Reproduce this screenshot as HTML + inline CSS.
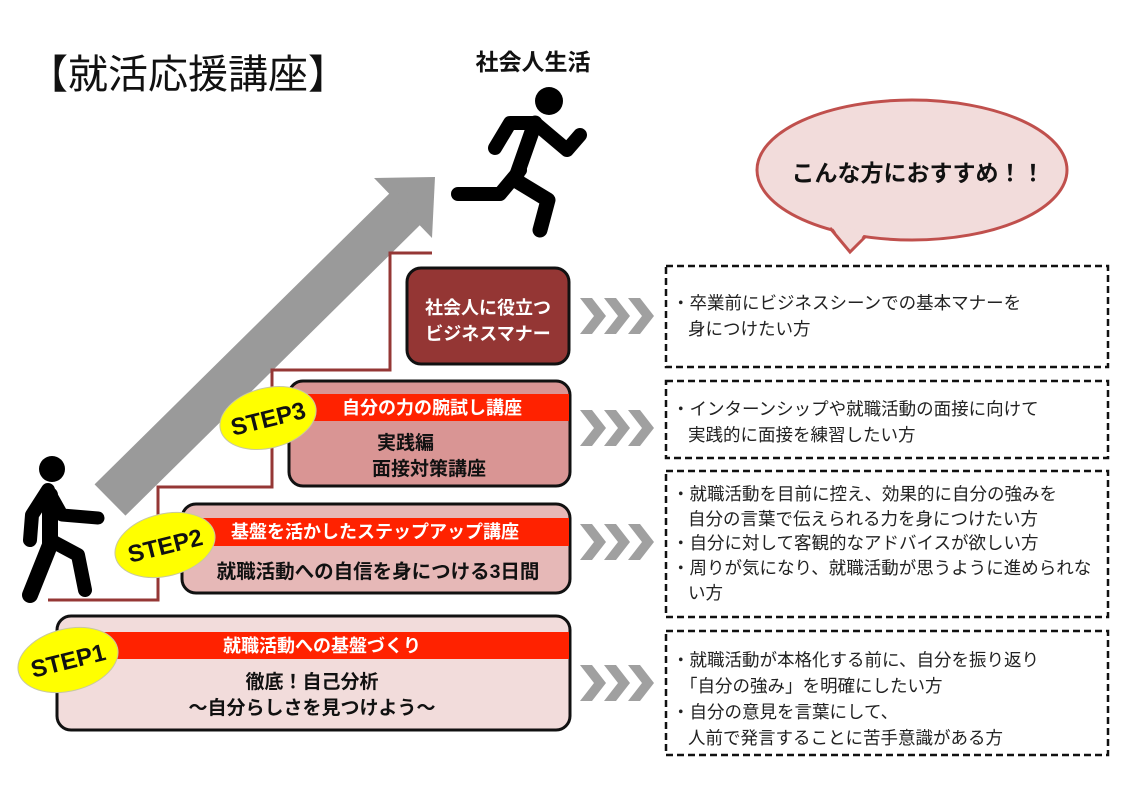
<!DOCTYPE html>
<html><head><meta charset="utf-8"><style>
html,body{margin:0;padding:0;background:#fff;}
svg{display:block;font-family:"Liberation Sans","Noto Sans CJK JP",sans-serif;}
</style></head><body>
<svg width="1121" height="793" viewBox="0 0 1121 793" xmlns="http://www.w3.org/2000/svg">
<rect width="1121" height="793" fill="#fff"/>
<text x="28" y="88" font-size="40" fill="#111">【就活応援講座】</text>
<text x="533" y="70" font-size="23" font-weight="bold" text-anchor="middle" fill="#111">社会人生活</text>

<!-- gray arrow -->
<line x1="110" y1="500" x2="408" y2="206" stroke="#9a9a9a" stroke-width="44"/>
<polygon points="435,177 374,178 432,238" fill="#9a9a9a"/>

<!-- stair line -->
<polyline points="48,600 158,600 158,487 272,487 272,370 390,370 390,253 432,253" fill="none" stroke="#953735" stroke-width="3"/>

<!-- runner top -->
<g fill="#000" stroke="#000" stroke-linecap="round" stroke-linejoin="round">
<circle cx="549" cy="101" r="14" stroke="none"/>
<polyline points="495,148 510,123 535,123 567,150 580,135" fill="none" stroke-width="14"/>
<polyline points="535,123 515,180 548,200 540,230" fill="none" stroke-width="15"/>
<polyline points="520,170 500,194 458,194" fill="none" stroke-width="14"/>
<!-- walker bottom -->
<circle cx="52" cy="469" r="13" stroke="none"/>
<polyline points="48,490 32,515 30,540" fill="none" stroke-width="14"/>
<polyline points="48,490 62,515 98,518" fill="none" stroke-width="13"/>
<polyline points="50,495 50,545 30,595" fill="none" stroke-width="16"/>
<polyline points="50,540 78,555 85,590" fill="none" stroke-width="14"/>
</g>

<!-- boxes left -->
<rect x="407" y="268" width="162" height="96" rx="14" fill="#943634" stroke="#111" stroke-width="3"/>
<text x="488" y="314" font-size="18" font-weight="bold" fill="#fff" text-anchor="middle">社会人に役立つ</text>
<text x="488" y="340" font-size="18" font-weight="bold" fill="#fff" text-anchor="middle">ビジネスマナー</text>

<rect x="289" y="381" width="281" height="105" rx="14" fill="#D99594" stroke="#111" stroke-width="3"/>
<rect x="291" y="394" width="278" height="27" fill="#FF2200"/>
<text x="432" y="414" font-size="18" font-weight="bold" fill="#fff" text-anchor="middle">自分の力の腕試し講座</text>
<text x="377" y="449" font-size="19" font-weight="bold" fill="#111">実践編</text>
<text x="372" y="475" font-size="19" font-weight="bold" fill="#111">面接対策講座</text>

<rect x="182" y="504" width="388" height="89" rx="14" fill="#E6B8B7" stroke="#111" stroke-width="3"/>
<rect x="184" y="518" width="385" height="28" fill="#FF2200"/>
<text x="375" y="538" font-size="18" font-weight="bold" fill="#fff" text-anchor="middle">基盤を活かしたステップアップ講座</text>
<text x="378" y="578" font-size="19.5" font-weight="bold" fill="#111" text-anchor="middle">就職活動への自信を身につける3日間</text>

<rect x="57" y="616" width="513" height="114" rx="14" fill="#F2DCDB" stroke="#111" stroke-width="3"/>
<rect x="59" y="632" width="510" height="27" fill="#FF2200"/>
<text x="322" y="652" font-size="18" font-weight="bold" fill="#fff" text-anchor="middle">就職活動への基盤づくり</text>
<text x="312" y="688" font-size="19" font-weight="bold" fill="#111" text-anchor="middle">徹底！自己分析</text>
<text x="312" y="714" font-size="19" font-weight="bold" fill="#111" text-anchor="middle">～自分らしさを見つけよう～</text>

<!-- STEP ellipses -->
<g font-size="24" font-weight="bold" fill="#111" text-anchor="middle">
<g transform="translate(268,418) rotate(-14)"><ellipse rx="49" ry="30" fill="#FFFF00" stroke="#c8c8a0" stroke-width="1"/><text y="9">STEP3</text></g>
<g transform="translate(165,545) rotate(-14)"><ellipse rx="51" ry="31" fill="#FFFF00" stroke="#c8c8a0" stroke-width="1"/><text y="9">STEP2</text></g>
<g transform="translate(68,660) rotate(-14)"><ellipse rx="51" ry="31" fill="#FFFF00" stroke="#c8c8a0" stroke-width="1"/><text y="9">STEP1</text></g>
</g>

<!-- chevrons -->
<defs><polygon id="chv" points="0,-18 12,-18 26,0 12,18 0,18 14,0" fill="#a0a0a0"/></defs>
<g>
<use href="#chv" x="580" y="316"/><use href="#chv" x="604" y="316"/><use href="#chv" x="628" y="316"/>
<use href="#chv" x="580" y="428"/><use href="#chv" x="604" y="428"/><use href="#chv" x="628" y="428"/>
<use href="#chv" x="580" y="542"/><use href="#chv" x="604" y="542"/><use href="#chv" x="628" y="542"/>
<use href="#chv" x="580" y="683"/><use href="#chv" x="604" y="683"/><use href="#chv" x="628" y="683"/>
</g>

<!-- speech bubble -->
<ellipse cx="912" cy="170" rx="155" ry="70" fill="#F2DCDB" stroke="#C0504D" stroke-width="3"/>
<polygon points="830,224 850,252 866,232" fill="#F2DCDB"/>
<polyline points="830,228 850,252 866,236" fill="none" stroke="#C0504D" stroke-width="3" stroke-linejoin="miter"/>
<text x="918" y="181" font-size="23" font-weight="bold" fill="#111" text-anchor="middle">こんな方におすすめ！！</text>

<!-- dashed boxes -->
<g fill="none" stroke="#111" stroke-width="2.5" stroke-dasharray="7,4">
<rect x="666" y="266" width="442" height="101"/>
<rect x="666" y="381" width="442" height="77"/>
<rect x="666" y="471" width="442" height="146"/>
<rect x="666" y="631" width="442" height="124"/>
</g>
<g font-size="17.5" fill="#222">
<text x="672" y="309">・卒業前にビジネスシーンでの基本マナーを</text>
<text x="688" y="335">身につけたい方</text>
<text x="672" y="415">・インターンシップや就職活動の面接に向けて</text>
<text x="688" y="441">実践的に面接を練習したい方</text>
<text x="672" y="500">・就職活動を目前に控え、効果的に自分の強みを</text>
<text x="688" y="525">自分の言葉で伝えられる力を身につけたい方</text>
<text x="672" y="549">・自分に対して客観的なアドバイスが欲しい方</text>
<text x="672" y="574">・周りが気になり、就職活動が思うように進められな</text>
<text x="688" y="599">い方</text>
<text x="672" y="666">・就職活動が本格化する前に、自分を振り返り</text>
<text x="680" y="692">「自分の強み」を明確にしたい方</text>
<text x="672" y="718">・自分の意見を言葉にして、</text>
<text x="688" y="744">人前で発言することに苦手意識がある方</text>
</g>
</svg>
</body></html>
